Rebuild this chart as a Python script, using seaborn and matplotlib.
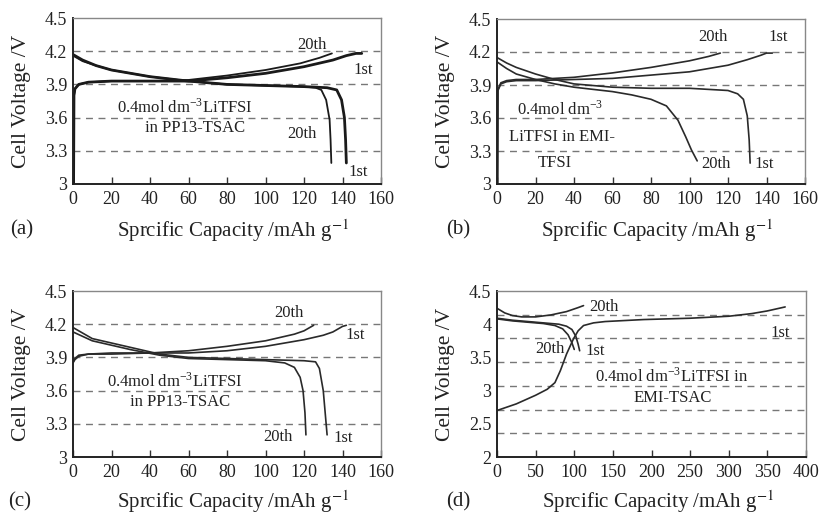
import numpy as np
import pandas as pd
import matplotlib
matplotlib.use("Agg")
import matplotlib.pyplot as plt
import seaborn as sns

# ---- data ----
# (a) 0.4 mol dm-3 LiTFSI in PP13-TSAC
a_x_chg1 = [0.3, 0.5, 1, 3, 8, 20, 40, 60, 80, 100, 120, 135, 142, 147, 150]
a_v_chg1 = [3.0, 3.8, 3.86, 3.9, 3.92, 3.93, 3.93, 3.93, 3.96, 4.0, 4.06, 4.12, 4.16, 4.18, 4.18]
a_x_chg20 = [0.3, 0.5, 1, 3, 8, 20, 40, 60, 80, 100, 118, 128, 134.5]
a_v_chg20 = [3.0, 3.8, 3.86, 3.9, 3.92, 3.93, 3.93, 3.94, 3.98, 4.03, 4.09, 4.14, 4.18]
a_x_dis1 = [0, 5, 12, 20, 40, 60, 80, 100, 120, 132, 137, 139.5, 141, 141.6, 142]
a_v_dis1 = [4.17, 4.12, 4.07, 4.03, 3.97, 3.93, 3.9, 3.89, 3.88, 3.87, 3.85, 3.76, 3.6, 3.4, 3.19]
a_x_dis20 = [0, 5, 12, 20, 40, 60, 80, 100, 120, 126, 129, 131.5, 133.3, 133.8, 134.2]
a_v_dis20 = [4.16, 4.11, 4.07, 4.03, 3.97, 3.93, 3.9, 3.89, 3.88, 3.87, 3.85, 3.76, 3.58, 3.4, 3.19]

# (b) 0.4 mol dm-3 LiTFSI in EMI-TFSI
b_x_chg1 = [0.3, 0.5, 2, 5, 10, 20, 40, 60, 80, 100, 120, 130, 137, 140, 143]
b_v_chg1 = [3.0, 3.85, 3.91, 3.93, 3.94, 3.94, 3.95, 3.96, 3.99, 4.02, 4.08, 4.13, 4.17, 4.19, 4.19]
b_x_chg20 = [0.3, 0.5, 2, 5, 10, 20, 40, 60, 80, 100, 110, 116]
b_v_chg20 = [3.0, 3.86, 3.92, 3.94, 3.95, 3.95, 3.97, 4.01, 4.06, 4.12, 4.16, 4.19]
b_x_dis1 = [0, 5, 10, 20, 30, 40, 60, 80, 100, 120, 125, 128, 130, 131, 131.5]
b_v_dis1 = [4.15, 4.1, 4.06, 4.0, 3.95, 3.91, 3.88, 3.87, 3.87, 3.85, 3.82, 3.77, 3.62, 3.4, 3.19]
b_x_dis20 = [0, 5, 10, 20, 30, 40, 60, 70, 80, 88, 94, 98, 101, 104]
b_v_dis20 = [4.11, 4.05, 4.0, 3.95, 3.91, 3.88, 3.84, 3.81, 3.77, 3.71, 3.58, 3.43, 3.31, 3.21]

# (c) 0.4 mol dm-3 LiTFSI in PP13-TSAC
c_x_chg1 = [0, 1, 3, 8, 20, 40, 60, 80, 100, 120, 130, 135, 140, 142]
c_v_chg1 = [3.85, 3.88, 3.91, 3.93, 3.93, 3.94, 3.94, 3.96, 4.0, 4.06, 4.1, 4.13, 4.18, 4.19]
c_x_chg20 = [0, 1, 3, 8, 20, 40, 60, 80, 100, 115, 120, 125]
c_v_chg20 = [3.86, 3.89, 3.92, 3.93, 3.94, 3.94, 3.96, 4.0, 4.05, 4.11, 4.14, 4.19]
c_x_dis1 = [0, 5, 10, 20, 30, 45, 60, 80, 100, 120, 126, 128, 130, 131, 132]
c_v_dis1 = [4.17, 4.12, 4.07, 4.03, 3.99, 3.93, 3.9, 3.89, 3.88, 3.87, 3.86, 3.8, 3.6, 3.4, 3.2]
c_x_dis20 = [0, 5, 10, 20, 30, 45, 60, 80, 100, 110, 115, 118, 119.5, 120.5, 121]
c_v_dis20 = [4.13, 4.09, 4.05, 4.01, 3.97, 3.92, 3.89, 3.88, 3.87, 3.85, 3.81, 3.72, 3.6, 3.4, 3.2]

# (d) 0.4 mol dm-3 LiTFSI in EMI-TSAC
d_x_chg1 = [0, 25, 50, 65, 75, 82, 90, 99, 105, 112, 125, 140, 190, 250, 300, 330, 350, 373]
d_v_chg1 = [2.7, 2.8, 2.93, 3.02, 3.12, 3.3, 3.55, 3.78, 3.9, 3.98, 4.02, 4.04, 4.07, 4.09, 4.12, 4.16, 4.2, 4.26]
d_x_chg20 = [0, 10, 20, 32, 50, 70, 90, 105, 112]
d_v_chg20 = [4.24, 4.17, 4.13, 4.11, 4.11, 4.14, 4.19, 4.25, 4.28]
d_x_dis1 = [0, 20, 40, 60, 80, 90, 97, 102, 105, 107]
d_v_dis1 = [4.09, 4.06, 4.04, 4.02, 4.0, 3.97, 3.92, 3.82, 3.7, 3.6]
d_x_dis20 = [0, 20, 40, 60, 75, 85, 92, 97, 100]
d_v_dis20 = [4.08, 4.05, 4.03, 4.01, 3.98, 3.93, 3.84, 3.72, 3.62]

x_ticks_160 = [0, 20, 40, 60, 80, 100, 120, 140, 160]
x_ticks_400 = [0, 50, 100, 150, 200, 250, 300, 350, 400]
y_ticks_abc = [3, 3.3, 3.6, 3.9, 4.2, 4.5]
y_ticks_d = [2, 2.5, 3, 3.5, 4, 4.5]
grid_abc = [3.3, 3.6, 3.9, 4.2]
grid_d = [2.36, 2.71, 3.07, 3.43, 3.79, 4.14]

sns.set_theme(style="white")
plt.rcParams['font.family'] = ['Liberation Serif', 'DejaVu Serif']
plt.rcParams['mathtext.fontset'] = 'stix'

fig = plt.figure(figsize=(8.19, 5.16), dpi=100)
W, H = 819, 516


def make_ax(left, top, right, bottom):
    return fig.add_axes([left / W, 1 - bottom / H, (right - left) / W, (bottom - top) / H])


def draw_curves(ax, curves, col):
    for xs, vs, lw in curves:
        df = pd.DataFrame({'cap': xs, 'v': vs})
        sns.lineplot(data=df, x='cap', y='v', ax=ax, sort=False, estimator=None,
                     color=col, lw=lw)


def style_ax(ax, xticks, yticks, grid, ylim, xlim):
    ax.set_xlim(*xlim)
    ax.set_ylim(*ylim)
    for g in grid:
        ax.axhline(g, color='#777777', lw=1.0, ls=(0, (5, 4)), zorder=0)
    ax.set_xticks(xticks)
    ax.set_yticks(yticks)
    ax.set_xticklabels(['%g' % t for t in xticks])
    ax.set_yticklabels(['%g' % t for t in yticks])
    ax.tick_params(axis='x', direction='in', length=5, width=1, color='#333333',
                   labelsize=13, pad=5, labelcolor='#222222', bottom=True)
    ax.tick_params(axis='y', length=0, labelsize=13, pad=4, labelcolor='#222222')
    for s in ['top', 'right']:
        ax.spines[s].set_color('#888888')
        ax.spines[s].set_linewidth(1.0)
    for s in ['left', 'bottom']:
        ax.spines[s].set_color('#222222')
        ax.spines[s].set_linewidth(1.4)
    ax.set_xlabel('Sprcific Capacity /mAh g$^{-1}$', fontsize=15, color='#222222')
    ax.set_ylabel('Cell Voltage /V', fontsize=15.5, color='#222222')
    ax.xaxis.set_label_coords(0.52, -0.2)
    ax.yaxis.set_label_coords(-0.135, 0.5)


ax_a = make_ax(73, 18, 381, 184)
ax_b = make_ax(497, 19, 805, 184)
ax_c = make_ax(73, 291, 381, 457)
ax_d = make_ax(497, 291, 806, 457)

grey = '#2a2a2a'
draw_curves(ax_a, [(a_x_chg1, a_v_chg1, 2.0), (a_x_chg20, a_v_chg20, 1.3),
                   (a_x_dis1, a_v_dis1, 2.0), (a_x_dis20, a_v_dis20, 1.3)], '#1a1a1a')
draw_curves(ax_b, [(b_x_chg1, b_v_chg1, 1.2), (b_x_chg20, b_v_chg20, 1.2),
                   (b_x_dis1, b_v_dis1, 1.2), (b_x_dis20, b_v_dis20, 1.2)], grey)
draw_curves(ax_c, [(c_x_chg1, c_v_chg1, 1.2), (c_x_chg20, c_v_chg20, 1.2),
                   (c_x_dis1, c_v_dis1, 1.2), (c_x_dis20, c_v_dis20, 1.2)], grey)
draw_curves(ax_d, [(d_x_chg1, d_v_chg1, 1.2), (d_x_chg20, d_v_chg20, 1.2),
                   (d_x_dis1, d_v_dis1, 1.2), (d_x_dis20, d_v_dis20, 1.2)], grey)

style_ax(ax_a, x_ticks_160, y_ticks_abc, grid_abc, (3, 4.5), (0, 160))
style_ax(ax_b, x_ticks_160, y_ticks_abc, grid_abc, (3, 4.5), (0, 160))
style_ax(ax_c, x_ticks_160, y_ticks_abc, grid_abc, (3, 4.5), (0, 160))
style_ax(ax_d, x_ticks_400, y_ticks_d, grid_d, (2, 4.5), (0, 400))
ax_c.xaxis.set_label_coords(0.52, -0.19)
ax_d.xaxis.set_label_coords(0.52, -0.19)

tk = dict(fontsize=12, color='#222222', ha='center', va='center')
# (a)
ax_a.text(124, 4.26, '20th', **tk)
ax_a.text(151, 4.03, '1st', **tk)
ax_a.text(58, 3.69, r'0.4mol dm$^{\mathregular{-3}}$LiTFSI', **tk)
ax_a.text(63.5, 3.51, 'in PP13-TSAC', **tk)
ax_a.text(119, 3.45, '20th', **tk)
ax_a.text(148, 3.11, '1st', **tk)
# (b)
ax_b.text(112, 4.34, '20th', **tk)
ax_b.text(146, 4.34, '1st', **tk)
ax_b.text(32.6, 3.68, r'0.4mol dm$^{\mathregular{-3}}$', **tk)
ax_b.text(34, 3.43, 'LiTFSI in EMI-', **tk)
ax_b.text(30, 3.19, 'TFSI', **tk)
ax_b.text(113.7, 3.18, '20th', **tk)
ax_b.text(139, 3.18, '1st', **tk)
# (c)
ax_c.text(112, 4.30, '20th', **tk)
ax_c.text(146.5, 4.10, '1st', **tk)
ax_c.text(53, 3.68, r'0.4mol dm$^{\mathregular{-3}}$LiTFSI', **tk)
ax_c.text(55.7, 3.50, 'in PP13-TSAC', **tk)
ax_c.text(106.7, 3.18, '20th', **tk)
ax_c.text(140.5, 3.17, '1st', **tk)
# (d)
ax_d.text(138, 4.26, '20th', **tk)
ax_d.text(366, 3.87, '1st', **tk)
ax_d.text(69, 3.62, '20th', **tk)
ax_d.text(127, 3.60, '1st', **tk)
ax_d.text(226, 3.22, r'0.4mol dm$^{\mathregular{-3}}$LiTFSI in', **tk)
ax_d.text(228, 2.89, 'EMI-TSAC', **tk)

pl = dict(fontsize=15, color='#222222', ha='center', va='center')
fig.text(22 / W, 1 - 230 / H, '(a)', **pl)
fig.text(458 / W, 1 - 230 / H, '(b)', **pl)
fig.text(20 / W, 1 - 502 / H, '(c)', **pl)
fig.text(458 / W, 1 - 502 / H, '(d)', **pl)

fig.savefig('out.png', dpi=100)
